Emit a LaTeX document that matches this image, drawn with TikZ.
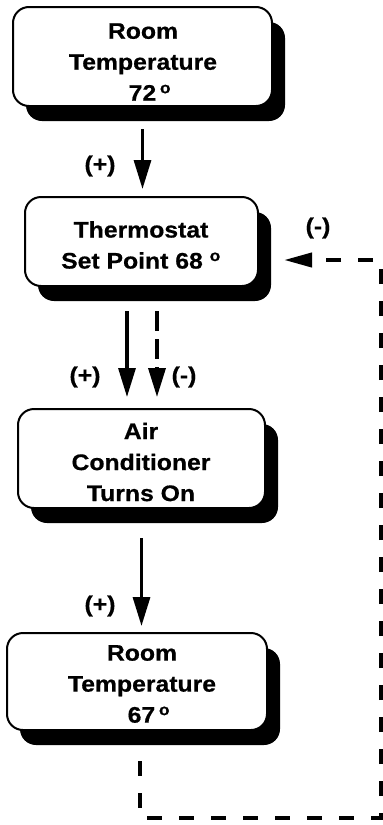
\documentclass[tikz,border=0pt]{standalone}
\usepackage{fontspec}
\setmainfont{Liberation Sans}[FakeStretch=1.1,FakeBold=0.6]
\usetikzlibrary{arrows.meta,shadows}
\begin{document}
\begin{tikzpicture}[x=1pt,y=-1pt,
  box/.style={draw=black, line width=2pt, fill=white, rounded corners=16pt,
    drop shadow={shadow xshift=13pt, shadow yshift=-15pt, fill=black, opacity=1}},
  txt/.style={align=center, font=\fontsize{22.5}{31}\selectfont\bfseries, inner sep=0pt},
  lbl/.style={font=\fontsize{22.5}{26}\selectfont\bfseries, inner sep=0pt},
  arr/.style={line width=3.2pt, -{Triangle[length=29pt,width=17pt]}},
  darr/.style={line width=3.5pt, dash pattern=on 20pt off 8pt, -{Triangle[length=29pt,width=17pt]}},
  fb/.style={line width=4pt, dash pattern=on 15pt off 17pt}
]
\useasboundingbox (0,0) rectangle (383,825);
% boxes
\node[box, minimum width=259pt, minimum height=99pt] (b1) at (142.5,56.5) {};
\node[box, minimum width=233pt, minimum height=89pt] (b2) at (141.5,241.5) {};
\node[box, minimum width=247pt, minimum height=99pt] (b3) at (141.5,458.5) {};
\node[box, minimum width=260pt, minimum height=97pt] (b4) at (137,681.5) {};
% texts
\node[txt] (t1) at (143,62) {Room\\Temperature\\\ \ 72\,\textsuperscript{o}};
\node[txt] (t2) at (141,245) {Thermostat\\Set Point 68\ \textsuperscript{o}};
\node[txt] (t3) at (141,462) {Air\\Conditioner\\Turns On};
\node[txt] (t4) at (142,684) {Room\\Temperature\\\ \ 67\,\textsuperscript{o}};
% labels
\node[lbl] (l1) at (100,166) {(+)};
\node[lbl] (l2) at (318,228) {(-)};
\node[lbl] (l3) at (85,377) {(+)};
\node[lbl] (l4) at (184,377) {(-)};
\node[lbl] (l5) at (100,606) {(+)};
% arrows
\draw[arr, shorten <=22pt, shorten >=7pt] (b1.south) -- (b1.south |- b2.north);
\draw[arr, shorten <=24pt, shorten >=11pt] ([xshift=-14.5pt]b2.south) -- ([xshift=-14.5pt]b3.north);
\draw[darr, shorten <=24pt, shorten >=11pt] ([xshift=15.5pt]b2.south) -- ([xshift=15.5pt]b3.north);
\draw[arr, shorten <=29pt, shorten >=6pt] (b3.south) -- (b3.south |- b4.north);
% feedback loop
\coordinate (c1) at (381,818);
\draw[fb, -{Triangle[length=28pt,width=14pt]}, shorten <=30pt, shorten >=25pt]
  ([xshift=3pt]b4.south) |- (c1) |- ([yshift=-18.5pt]b2.east);
\end{tikzpicture}
\end{document}
